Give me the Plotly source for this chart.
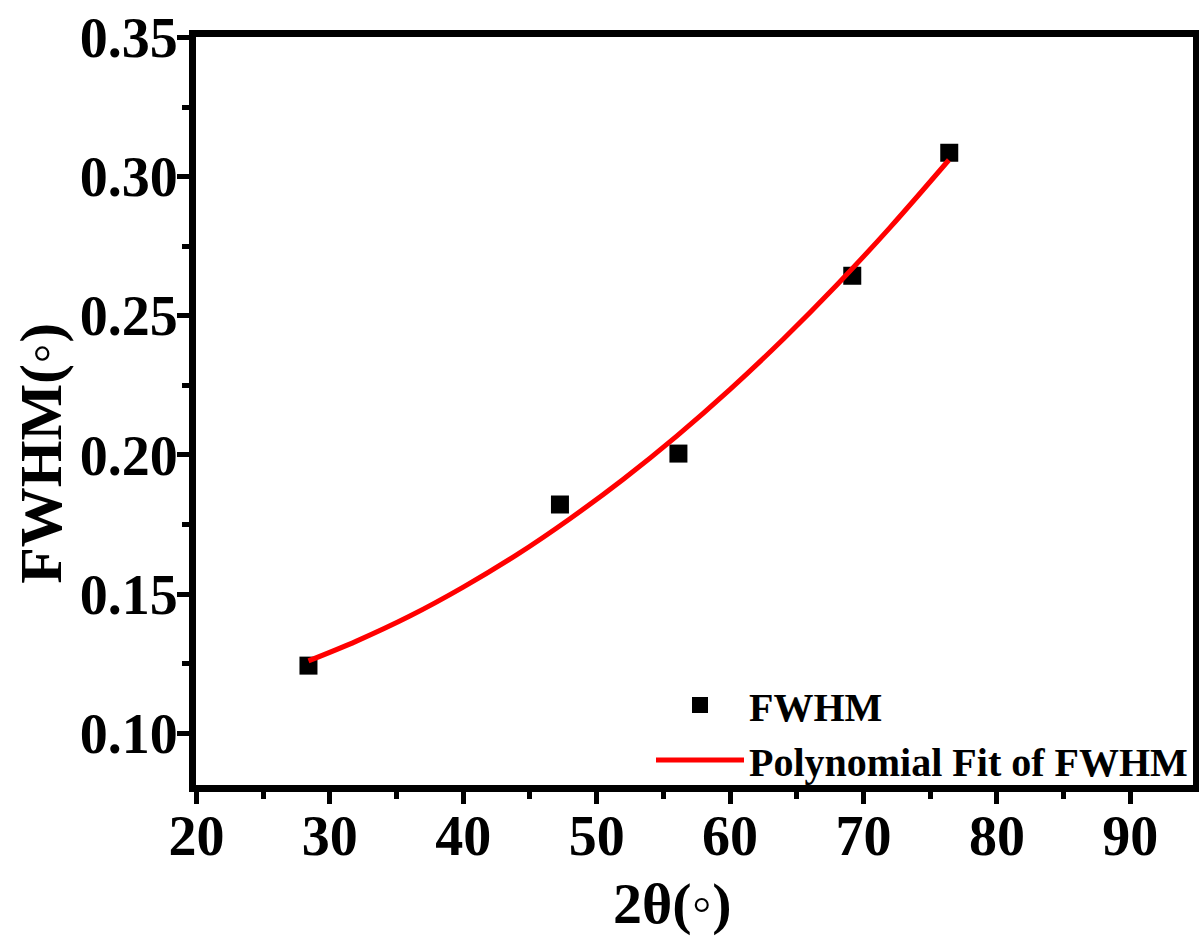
import plotly.graph_objects as go

two_theta = [28.4, 47.25, 56.13, 69.16, 76.43]
fwhm = [0.1243, 0.1822, 0.2005, 0.2644, 0.3086]

# Polynomial fit curve
fit_x = [28.4, 32, 36, 40, 44, 48, 52, 56, 60, 64, 68, 72, 76.4]
fit_y = [0.126, 0.1331, 0.1421, 0.1525, 0.1641, 0.1771, 0.1913, 0.2068,
         0.2236, 0.2417, 0.2611, 0.2818, 0.306]

x_ticks = [20, 30, 40, 50, 60, 70, 80, 90]
y_ticks = [0.10, 0.15, 0.20, 0.25, 0.30, 0.35]

FONT = "Liberation Serif"

fig = go.Figure()
fig.add_trace(go.Scatter(
    x=two_theta, y=fwhm, mode="markers", name="<b>FWHM</b>",
    marker=dict(symbol="square", size=18, color="black"),
))
fig.add_trace(go.Scatter(
    x=fit_x, y=fit_y, mode="lines", name="<b>Polynomial Fit of FWHM</b>",
    line=dict(color="#ff0000", width=5, shape="spline"),
))

axis_common = dict(
    showgrid=False, zeroline=False,
    showline=True, linecolor="black", linewidth=7, mirror=True,
    ticks="outside", ticklen=12, tickwidth=5, tickcolor="black",
    tickfont=dict(family=FONT, size=56, color="black", weight="bold"),
    automargin=False,
)

fig.update_xaxes(
    range=[19.97, 94.7], tickvals=x_ticks,
    ticktext=[f"<b>{v}</b>" for v in x_ticks],
    minor=dict(dtick=5, ticks="outside", ticklen=7, tickwidth=5, tickcolor="black"),
    ticklabelstandoff=-16,
    **axis_common,
)
fig.update_yaxes(
    range=[0.0814, 0.3502], tickvals=y_ticks,
    ticktext=[f"<b>{v:.2f}</b>" for v in y_ticks],
    minor=dict(dtick=0.025, ticks="outside", ticklen=7, tickwidth=5, tickcolor="black"),
    ticklabelstandoff=-12,
    **axis_common,
)

fig.add_annotation(
    text="<b>2θ(◦)</b>", xref="paper", yref="paper",
    x=0.4774, y=-0.158, xanchor="center", yanchor="middle", showarrow=False,
    font=dict(family=FONT, size=58, color="black"),
)
fig.add_annotation(
    text="<b>FWHM(◦)</b>", xref="paper", yref="paper",
    x=-0.1555, y=0.444, xanchor="center", yanchor="middle", showarrow=False,
    textangle=-90,
    font=dict(family=FONT, size=60, color="black"),
)

fig.update_layout(
    width=1199, height=936,
    margin=dict(l=196, r=6, t=37, b=151, autoexpand=False),
    plot_bgcolor="white", paper_bgcolor="white",
    showlegend=True,
    legend=dict(
        x=1.0, xanchor="right", y=-0.01, yanchor="bottom",
        bgcolor="rgba(0,0,0,0)", borderwidth=0,
        font=dict(family=FONT, size=40, color="black"),
        itemwidth=88, tracegroupgap=0,
    ),
)

fig.write_html("out.html", config={"displayModeBar": False},
               post_script="document.body.style.margin='0px';")
